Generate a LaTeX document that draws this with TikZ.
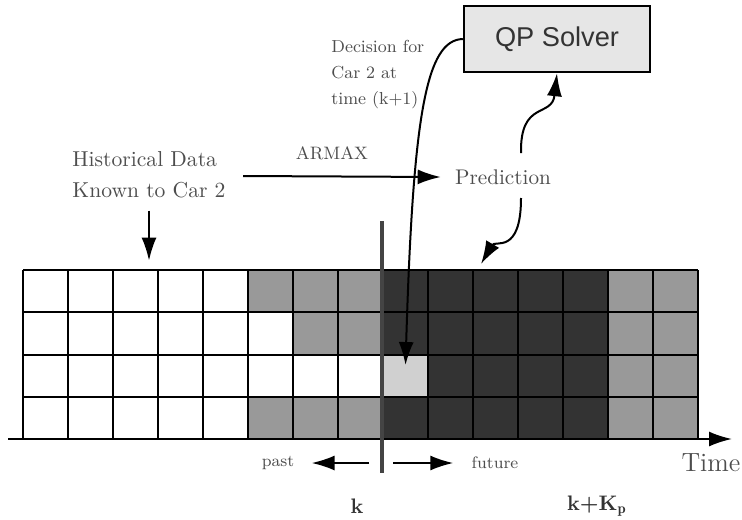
\documentclass[tikz,border=0pt]{standalone}
\usepackage{fontspec}
\newfontfamily\qpfont{Liberation Sans}
\usetikzlibrary{arrows.meta,calc}
\definecolor{txt}{HTML}{4D4D4D}
\definecolor{celldark}{HTML}{333333}
\definecolor{cellmid}{HTML}{999999}
\definecolor{celllight}{HTML}{D0D0D0}
\definecolor{boxfill}{HTML}{E6E6E6}
\definecolor{kline}{HTML}{444444}

\begin{document}
\begin{tikzpicture}[x=0.5pt,y=-0.5pt,
  arr/.style={line width=1pt,-{Latex[length=11.5pt,width=7.5pt]}},
  lbl/.style={text=txt,inner sep=1pt}]
  \useasboundingbox (0,0) rectangle (742,519);
  % cells of the time grid
  \begin{scope}[shift={(23,270)},x=22.5pt,y=-21.125pt]
    \fill[cellmid] (5,0) rectangle (8,4);
    \fill[white] (5,1) rectangle (6,3); \fill[white] (6,2) rectangle (8,3);
    \fill[celldark] (8,0) rectangle (13,4);
    \fill[celllight] (8,2) rectangle (9,3);
    \fill[cellmid] (13,0) rectangle (15,4);
    \foreach \i in {0,...,15} \draw[line width=1pt] (\i,0) -- (\i,4);
    \foreach \j in {0,...,4} \draw[line width=1pt] (0,\j) -- (15,\j);
    \coordinate (cell) at (8.5,2.25);
  \end{scope}
  % time axis and the present k
  \coordinate (ax0) at (8,439); \coordinate (ax1) at (732,439);
  \draw[arr] (ax0) -- (ax1);
  \coordinate (ktop) at (382,221); \coordinate (kbot) at (382,473);
  \draw[line width=2pt,kline] (ktop) -- (kbot);
  % labels
  \node[lbl,font=\fontsize{10.8}{15.5}\selectfont,align=left] (hist) at (149,175) {Historical Data\\Known to Car 2};
  \node[lbl,font=\fontsize{9}{9}\selectfont] (armax) at (332,153) {ARMAX};
  \node[lbl,font=\fontsize{10.6}{10.6}\selectfont] (pred) at (503,177) {Prediction};
  \node[draw,line width=1.2pt,fill=boxfill,minimum width=93pt,minimum height=33pt,
    text=celldark,font=\qpfont\fontsize{13.6}{16}\selectfont] (qp) at (557,39) {QP Solver};
  \node[lbl,anchor=west,align=left,font=\fontsize{8.7}{13}\selectfont] (dec) at (329,75) {Decision for\\Car 2 at\\time (k+1)};
  \node[lbl,font=\fontsize{8.3}{8.3}\selectfont] (past) at (278,463) {past};
  \node[lbl,font=\fontsize{8.3}{8.3}\selectfont] (future) at (495,463) {future};
  \node[lbl,font=\fontsize{13.2}{13.2}\selectfont] (time) at (711,463) {Time};
  \node[text=celldark,font=\fontsize{10.5}{10.5}\selectfont] (k) at (357,506) {\textbf{k}};
  \node[text=celldark,font=\fontsize{10.5}{10.5}\selectfont] (kkp) at (597,506) {\textbf{k+K}$_{\mathbf{p}}$};
  % connectors
  \coordinate (armaxfrom) at (243,176);
  \coordinate (predup) at (521,153); \coordinate (preddown) at (521,198);
  \coordinate (gridtop) at (481,264);
  \coordinate (pastfrom) at (369,463); \coordinate (futfrom) at (393,463);
  \draw[arr] ([yshift=-5pt]hist.south) -- ++(0,50);
  \draw[arr] (armaxfrom) -- ([xshift=-6pt]pred.west);
  \draw[arr] (predup) .. controls (520,100) and (552,118) .. (qp.south);
  \draw[arr] (preddown) .. controls (521,255) and (495,240) .. (gridtop);
  \draw[arr] (qp.west) .. controls (426,40) and (413,115) .. (cell);
  \draw[arr] (pastfrom) -- ([xshift=7.5pt]past.east);
  \draw[arr] (futfrom) -- ([xshift=-8pt]future.west);
\end{tikzpicture}
\end{document}
